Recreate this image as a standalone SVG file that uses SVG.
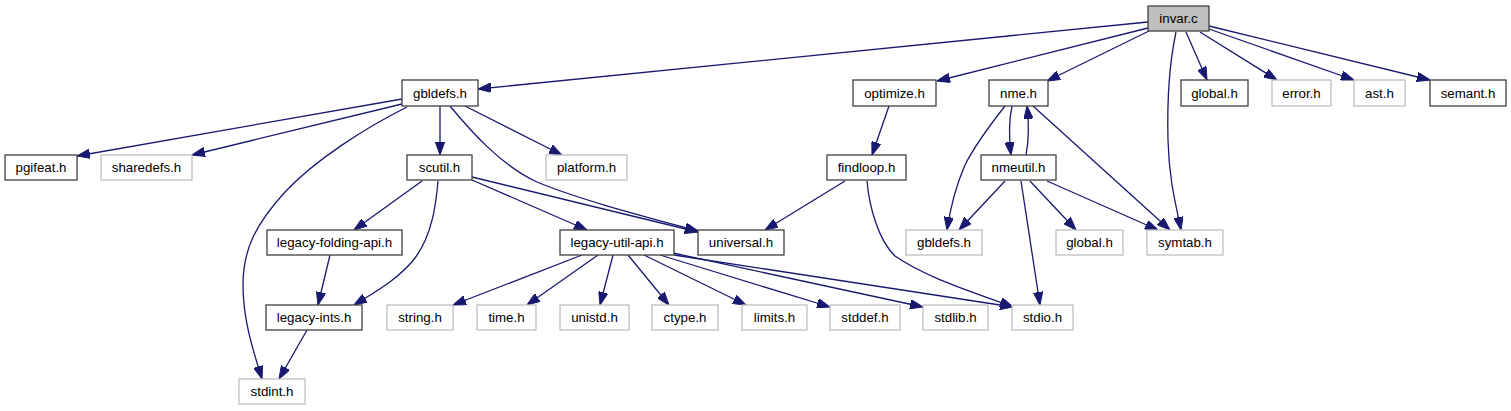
<svg xmlns="http://www.w3.org/2000/svg" width="1511" height="411" viewBox="0 0 1511 411">
<style>
.n rect{fill:#ffffff;stroke:#404040;stroke-width:1.3}
.g rect{fill:#ffffff;stroke:#bfbfbf;stroke-width:1.3}
.r rect{fill:#bfbfbf;stroke:#404040;stroke-width:1.3}
text{font-family:"Liberation Sans",Arial,Helvetica,sans-serif;font-size:13.3px;fill:#000000;text-anchor:middle}
.e path{fill:none;stroke:#191970;stroke-width:1.3;marker-end:url(#ah)}
</style>
<defs>
<marker id="ah" viewBox="0 0 13 9.4" refX="13" refY="4.7" markerWidth="13" markerHeight="9.4" markerUnits="userSpaceOnUse" orient="auto">
<path d="M0,0 L13,4.7 L0,9.4 z" fill="#191970" stroke="#191970" stroke-width="1"/>
</marker>
</defs>
<rect width="1511" height="411" fill="#ffffff"/>
<g id="edges" class="e">
<path d="M1148,22 L478,89"/>
<path d="M1148,28 L937,81"/>
<path d="M1149,31 L1047,81"/>
<path d="M1176,32 C1170,60 1167,100 1168,140 C1169,180 1176,205 1181,230"/>
<path d="M1186,32 L1207,80"/>
<path d="M1200,32 L1277,80"/>
<path d="M1209,29 L1354,80"/>
<path d="M1209,26 L1430,80"/>
<path d="M402,99 L77,156"/>
<path d="M402,104 L192,155"/>
<path d="M407,107 C365,128 315,160 285,192 C255,225 243,250 243,285 C243,320 253,350 262,379"/>
<path d="M440,106 L440,155"/>
<path d="M450,106 C470,130 500,165 537,182 C580,200 650,218 698,231"/>
<path d="M465,106 L562,155"/>
<path d="M422,181 L354,230"/>
<path d="M438,181 C436,205 432,235 415,258 C400,278 375,292 354,305"/>
<path d="M472,180 L587,230"/>
<path d="M472,177 L698,232"/>
<path d="M889,106 L872,155"/>
<path d="M845,181 L765,230"/>
<path d="M867,181 C869,205 878,240 895,256 C930,280 980,294 1013,307"/>
<path d="M1012,106 C1009,120 1009,138 1011,155"/>
<path d="M1026,155 C1029,140 1029,124 1027,106"/>
<path d="M1005,106 C990,125 975,145 965,165 C955,188 950,210 947,230"/>
<path d="M1005,181 L959,230"/>
<path d="M1033,106 L1170,230"/>
<path d="M1030,181 L1076,230"/>
<path d="M1047,181 L1158,230"/>
<path d="M1021,181 L1040,305"/>
<path d="M330,255 L318,305"/>
<path d="M307,330 L279,379"/>
<path d="M582,255 L453,305"/>
<path d="M598,255 L527,305"/>
<path d="M613,255 L600,305"/>
<path d="M628,255 L669,305"/>
<path d="M644,255 L746,305"/>
<path d="M660,255 L830,307"/>
<path d="M673,253 L923,307"/>
<path d="M674,255 L1013,307"/>
</g>
<g id="invar_c" class="r"><rect x="1148" y="6" width="61" height="25"/><text x="1178.5" y="23">invar.c</text></g>
<g id="gbldefs_h" class="n"><rect x="402" y="80" width="76" height="26"/><text x="440" y="97.5">gbldefs.h</text></g>
<g id="optimize_h" class="n"><rect x="853" y="80" width="83" height="26"/><text x="894.5" y="97.5">optimize.h</text></g>
<g id="nme_h" class="n"><rect x="989" y="80" width="59" height="26"/><text x="1018.5" y="97.5">nme.h</text></g>
<g id="global_h" class="n"><rect x="1181" y="80" width="67" height="26"/><text x="1214.5" y="97.5">global.h</text></g>
<g id="error_h" class="g"><rect x="1272" y="80" width="59" height="26"/><text x="1301.5" y="97.5">error.h</text></g>
<g id="ast_h" class="g"><rect x="1354" y="80" width="51" height="26"/><text x="1379.5" y="97.5">ast.h</text></g>
<g id="semant_h" class="n"><rect x="1430" y="80" width="76" height="26"/><text x="1468" y="97.5">semant.h</text></g>
<g id="pgifeat_h" class="n"><rect x="5" y="155" width="72" height="25"/><text x="41" y="172">pgifeat.h</text></g>
<g id="sharedefs_h" class="g"><rect x="101" y="155" width="91" height="25"/><text x="146.5" y="172">sharedefs.h</text></g>
<g id="scutil_h" class="n"><rect x="407" y="155" width="65" height="25"/><text x="439.5" y="172">scutil.h</text></g>
<g id="platform_h" class="g"><rect x="546" y="155" width="81" height="25"/><text x="586.5" y="172">platform.h</text></g>
<g id="findloop_h" class="n"><rect x="827" y="155" width="79" height="25"/><text x="866.5" y="172">findloop.h</text></g>
<g id="nmeutil_h" class="n"><rect x="981" y="155" width="75" height="25"/><text x="1018.5" y="172">nmeutil.h</text></g>
<g id="legacy_folding_api_h" class="n"><rect x="267" y="230" width="135" height="25"/><text x="334.5" y="247">legacy-folding-api.h</text></g>
<g id="legacy_util_api_h" class="n"><rect x="560" y="230" width="114" height="25"/><text x="617" y="247">legacy-util-api.h</text></g>
<g id="universal_h" class="n"><rect x="698" y="230" width="86" height="25"/><text x="741" y="247">universal.h</text></g>
<g id="gbldefs_h2" class="g"><rect x="906" y="230" width="76" height="25"/><text x="944" y="247">gbldefs.h</text></g>
<g id="global_h2" class="g"><rect x="1056" y="230" width="67" height="25"/><text x="1089.5" y="247">global.h</text></g>
<g id="symtab_h" class="g"><rect x="1147" y="230" width="76" height="25"/><text x="1185" y="247">symtab.h</text></g>
<g id="legacy_ints_h" class="n"><rect x="266" y="305" width="96" height="25"/><text x="314" y="322">legacy-ints.h</text></g>
<g id="string_h" class="g"><rect x="387" y="305" width="66" height="25"/><text x="420" y="322">string.h</text></g>
<g id="time_h" class="g"><rect x="477" y="305" width="59" height="25"/><text x="506.5" y="322">time.h</text></g>
<g id="unistd_h" class="g"><rect x="560" y="305" width="69" height="25"/><text x="594.5" y="322">unistd.h</text></g>
<g id="ctype_h" class="g"><rect x="652" y="305" width="66" height="25"/><text x="685" y="322">ctype.h</text></g>
<g id="limits_h" class="g"><rect x="742" y="305" width="65" height="25"/><text x="774.5" y="322">limits.h</text></g>
<g id="stddef_h" class="g"><rect x="830" y="305" width="70" height="25"/><text x="865" y="322">stddef.h</text></g>
<g id="stdlib_h" class="g"><rect x="923" y="305" width="65" height="25"/><text x="955.5" y="322">stdlib.h</text></g>
<g id="stdio_h" class="g"><rect x="1012" y="305" width="61" height="25"/><text x="1042.5" y="322">stdio.h</text></g>
<g id="stdint_h" class="g"><rect x="239" y="379" width="66" height="25"/><text x="272" y="396">stdint.h</text></g>
</svg>
